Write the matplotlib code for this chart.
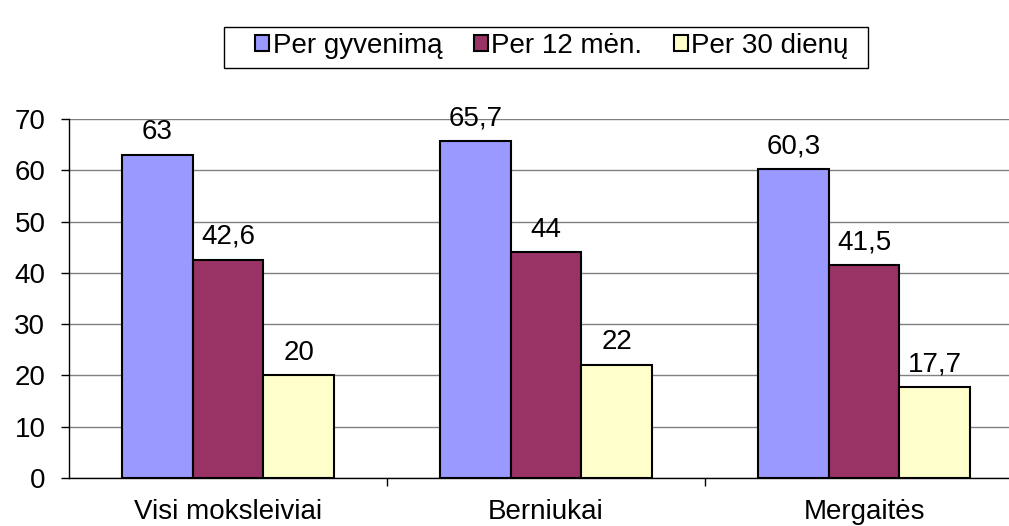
import numpy as np
import matplotlib.pyplot as plt
from matplotlib.ticker import FixedLocator
from matplotlib.patches import Rectangle

categories = ['Visi moksleiviai', 'Berniukai', 'Mergaitės']
series = ['Per gyvenimą', 'Per 12 mėn.', 'Per 30 dienų']
gyvenima = [63, 65.7, 60.3]
men12 = [42.6, 44, 41.5]
dienu30 = [20, 22, 17.7]
colors = ['#9999FF', '#993366', '#FFFFCC']

plt.rcParams['font.family'] = ['Liberation Sans', 'DejaVu Sans']
FS = 20
W, H = 1009, 526

fig = plt.figure(figsize=(W / 100, H / 100), dpi=100)
# the plot area runs past the right edge of the picture, as in the original
ax = fig.add_axes([69 / W, 48 / H, 954 / W, 359 / H])

x = np.arange(len(categories))
w = 0.2222
bars = []
for i, (vals, c, name) in enumerate(zip([gyvenima, men12, dienu30], colors, series)):
    b = ax.bar(x + (i - 1) * w, vals, w, color=c, edgecolor='black', linewidth=1.5,
               label=name, zorder=3)
    bars.append(b)
    for rect, v in zip(b, vals):
        txt = f'{v:g}'.replace('.', ',')
        ax.annotate(txt, (rect.get_x() + rect.get_width() / 2, v),
                    xytext=(0, 7), textcoords='offset points',
                    ha='center', va='bottom', fontsize=FS)

ax.set_xlim(-0.5, 2.5)
ax.set_ylim(0, 70)
ax.set_yticks(range(0, 71, 10))
ax.yaxis.grid(True, color='#808080', linewidth=1, zorder=0)
ax.set_xticks(x)
ax.set_xticklabels(categories)
ax.xaxis.set_minor_locator(FixedLocator([0.5, 1.5, 2.5]))
ax.tick_params(axis='x', which='major', length=0, pad=15, labelsize=FS)
ax.tick_params(axis='x', which='minor', length=6, width=1, direction='out')
ax.tick_params(axis='y', length=6, width=1, direction='out', labelsize=FS, pad=11)

for s in ['top', 'right']:
    ax.spines[s].set_visible(False)
ax.spines['left'].set_linewidth(1)
ax.spines['bottom'].set_linewidth(1)

# legend entries without frame; the box is drawn separately (wider left margin)
leg = fig.legend(handles=bars, labels=series, loc='center',
                 bbox_to_anchor=(552 / W, 1 - 46 / H), ncol=3,
                 frameon=False, fontsize=FS,
                 handlelength=0.5, handleheight=0.5, handletextpad=0.12,
                 columnspacing=1.15, borderpad=0, borderaxespad=0)
fig.patches.append(Rectangle((224 / W, 1 - 68 / H), 644 / W, 41 / H,
                             transform=fig.transFigure, fill=False,
                             edgecolor='black', linewidth=1))

fig.savefig('out.png', dpi=100)
